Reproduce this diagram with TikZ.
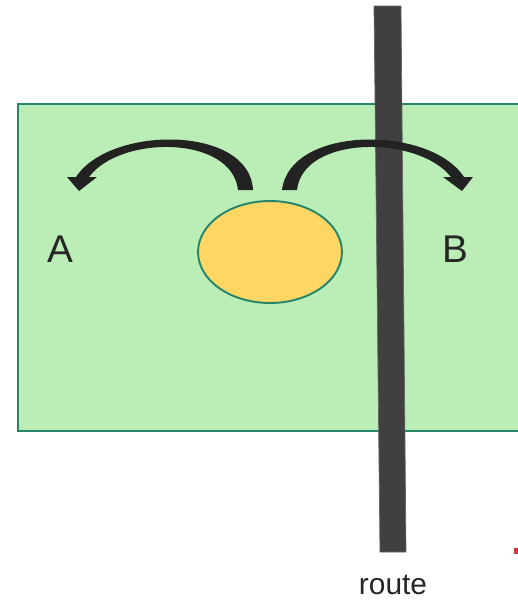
\documentclass[tikz,border=0pt]{standalone}
\usepackage{fontspec}
\setmainfont{Liberation Sans}
\usetikzlibrary{shapes.geometric, positioning}
\definecolor{pre}{RGB}{187,238,182}
\definecolor{bord}{RGB}{38,134,108}
\definecolor{ilot}{RGB}{253,214,100}
\definecolor{asphalte}{RGB}{64,64,64}
\definecolor{fleche}{RGB}{34,34,34}
\definecolor{repere}{RGB}{200,60,60}
\tikzset{
  zone/.style={draw=bord, fill=pre, line width=1.1pt},
  noyau/.style={ellipse, draw=bord, fill=ilot, line width=1.1pt, inner sep=0pt,
                minimum width=2.88cm, minimum height=2.04cm},
  voie/.style={fill=asphalte, draw=asphalte!80, line width=0.4pt},
  saut/.style={fill=fleche},
  lettre/.style={font=\fontsize{22}{26}\selectfont, text=black!85},
  legende/.style={font=\fontsize{17}{20}\selectfont, text=black!85}
}

\begin{document}
\begin{tikzpicture}[x=0.02cm, y=-0.02cm]
    \useasboundingbox (0,0) rectangle (518,600);
    \clip (0,0) rectangle (518,600);
    \fill[white] (0,0) rectangle (518,600);
    \draw[zone] (18,104) rectangle (540,431);
    \draw[voie] (374,6) -- (401,6) -- (406,552) -- (380,552) -- cycle;
    \node[noyau] (centre) at (270,252) {};
    \node[lettre] (A) at (60,249) {A};
    \node[lettre] (B) at (455,249) {B};
    \node[legende] (route) at (393,585) {route};
    \fill[repere] (514,548) rectangle (520,554);
    \fill[saut] (238,190) .. controls (232,135) and (120,135) .. (89,177)
      -- (97,177) -- (79,191) -- (67,177) -- (76,177)
      .. controls (110,125) and (250,125) .. (253,190) -- cycle;
    \fill[saut] (297,190) .. controls (303,135) and (418,135) .. (451,177)
      -- (443,177) -- (462,191) -- (473,177) -- (464,177)
      .. controls (430,125) and (290,125) .. (282,190) -- cycle;
\end{tikzpicture}
\end{document}
